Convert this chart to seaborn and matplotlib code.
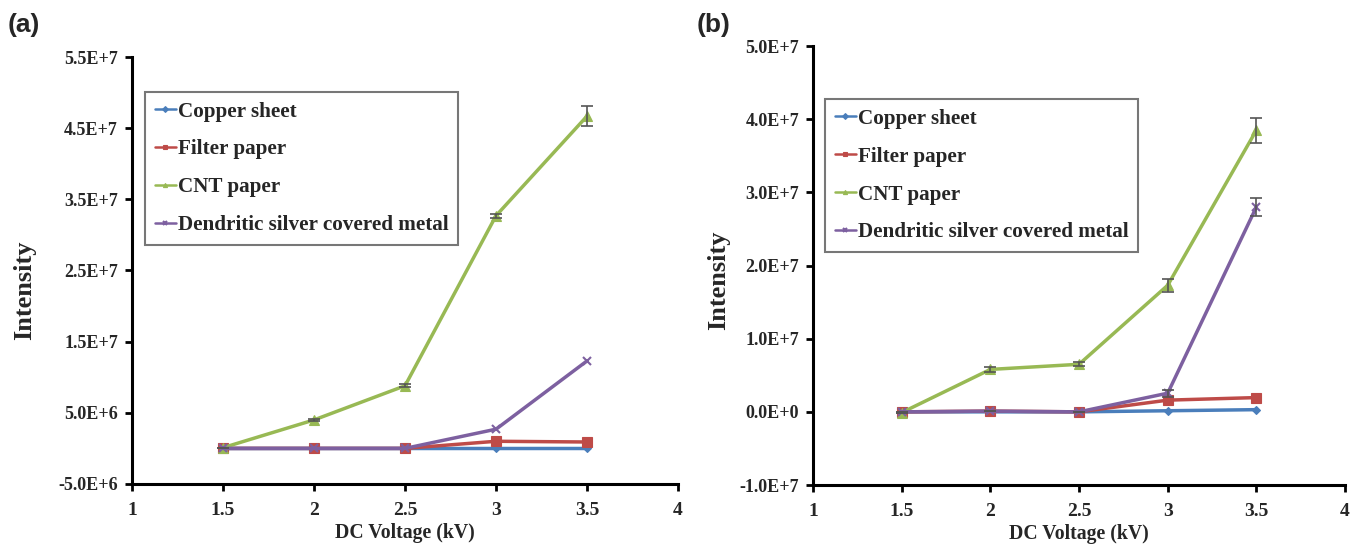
import matplotlib
matplotlib.use("Agg")
import matplotlib.pyplot as plt
import seaborn as sns
import pandas as pd
from matplotlib.ticker import FuncFormatter, FixedLocator

voltage = [1.5, 2.0, 2.5, 3.0, 3.5]
series_names = ["Copper sheet", "Filter paper", "CNT paper", "Dendritic silver covered metal"]

# Panel (a)
a_copper = [0.0, 0.0, 0.0, 0.0, 0.0]
a_filter = [0.0, 0.0, 0.0, 1.0e6, 0.9e6]
a_cnt = [0.1e6, 4.0e6, 8.8e6, 3.27e7, 4.67e7]
a_dendritic = [0.0, 0.0, 0.0, 2.7e6, 1.23e7]
a_cnt_err = [0.0, 0.2e6, 0.2e6, 0.3e6, 1.4e6]

# Panel (b)
b_copper = [0.0, 0.0, 0.0, 0.15e6, 0.3e6]
b_filter = [0.0, 0.1e6, 0.0, 1.6e6, 1.95e6]
b_cnt = [-0.1e6, 5.8e6, 6.5e6, 1.73e7, 3.85e7]
b_dendritic = [0.0, 0.1e6, 0.0, 2.55e6, 2.8e7]
b_cnt_err = [0.0, 0.3e6, 0.3e6, 0.9e6, 1.7e6]
b_dendritic_err = [0.0, 0.0, 0.0, 0.5e6, 1.2e6]

colors = ["#4a7ebb", "#be4b48", "#98b954", "#7d60a0"]
markers = ["D", "s", "^", "x"]
msizes = [4, 7, 7, 6]

sns.set_theme(style="white")
plt.rcParams["font.family"] = ["Liberation Serif", "DejaVu Serif"]
plt.rcParams["font.weight"] = "bold"

fig = plt.figure(figsize=(13.51, 5.46), dpi=100)
axA = fig.add_axes([0.0977, 0.1136, 0.4042, 0.782])
axB = fig.add_axes([0.6018, 0.1117, 0.3938, 0.804])


def sci(v, pos=None):
    if abs(v) < 1e-9:
        return "0.0E+0"
    s = f"{v:.1E}"
    mant, exp = s.split("E")
    e = int(exp)
    sign = "+" if e >= 0 else "-"
    return f"{mant}E{sign}{abs(e)}"


def draw(ax, data, errs, yticks, ylim, legend_anchor):
    rows = []
    for name, vals in zip(series_names, data):
        for x, y in zip(voltage, vals):
            rows.append({"Voltage": x, "Intensity": y, "Series": name})
    df = pd.DataFrame(rows)
    for name, col, mk, ms in zip(series_names, colors, markers, msizes):
        sub = df[df["Series"] == name]
        sns.lineplot(data=sub, x="Voltage", y="Intensity", ax=ax, color=col,
                     marker=mk, markersize=ms, linewidth=2.5, label=name,
                     markeredgecolor=col, markeredgewidth=1.5 if mk == "x" else 0.8,
                     errorbar=None)
    for idx, err in errs:
        ax.errorbar(voltage, data[idx], yerr=err, fmt="none", ecolor="#555555",
                    elinewidth=1.2, capsize=4, capthick=1.2, zorder=5)
    ax.set_xlim(1, 4)
    ax.set_ylim(*ylim)
    ax.xaxis.set_major_locator(FixedLocator([1, 1.5, 2, 2.5, 3, 3.5, 4]))
    ax.xaxis.set_major_formatter(FuncFormatter(lambda v, p: f"{v:g}"))
    ax.yaxis.set_major_locator(FixedLocator(yticks))
    ax.yaxis.set_major_formatter(FuncFormatter(sci))
    for s in ["top", "right"]:
        ax.spines[s].set_visible(False)
    for s in ["left", "bottom"]:
        ax.spines[s].set_color("black")
        ax.spines[s].set_linewidth(2.2)
    ax.tick_params(axis="both", direction="out", length=5, width=2, color="black",
                   labelsize=13, pad=5, bottom=True, left=True)
    for lab in ax.get_xticklabels() + ax.get_yticklabels():
        lab.set_fontweight("bold")
    ax.tick_params(axis="x", labelsize=14, pad=8)
    ax.set_xlabel("DC Voltage (kV)", fontsize=14.2, fontweight="bold", labelpad=3)
    ax.set_ylabel("Intensity", fontsize=19, fontweight="bold")
    leg = ax.legend(loc="upper left", bbox_to_anchor=legend_anchor, frameon=True,
                    fancybox=False, edgecolor="#555555", handlelength=1.0,
                    handletextpad=0.1, labelspacing=0.85, borderpad=0.45,
                    borderaxespad=0.0,
                    prop={"family": "Liberation Serif", "weight": "bold", "size": 15.2})
    leg.get_frame().set_linewidth(1.5)
    for h in leg.legend_handles:
        h.set_linewidth(1.8)
        h.set_markersize(3)


draw(axA, [a_copper, a_filter, a_cnt, a_dendritic], [(2, a_cnt_err)],
     [-5e6, 5e6, 1.5e7, 2.5e7, 3.5e7, 4.5e7, 5.5e7], (-5e6, 5.5e7), (0.024, 0.918))
draw(axB, [b_copper, b_filter, b_cnt, b_dendritic], [(2, b_cnt_err), (3, b_dendritic_err)],
     [-1e7, 0, 1e7, 2e7, 3e7, 4e7, 5e7], (-1e7, 5e7), (0.023, 0.879))

axA.yaxis.set_label_coords(-0.176, 0.454)
axB.yaxis.set_label_coords(-0.156, 0.467)

fig.text(0.006, 0.955, "(a)", fontsize=19, fontweight="bold", family="Liberation Sans", va="center")
fig.text(0.516, 0.955, "(b)", fontsize=19, fontweight="bold", family="Liberation Sans", va="center")

fig.savefig("out.png", dpi=100)
